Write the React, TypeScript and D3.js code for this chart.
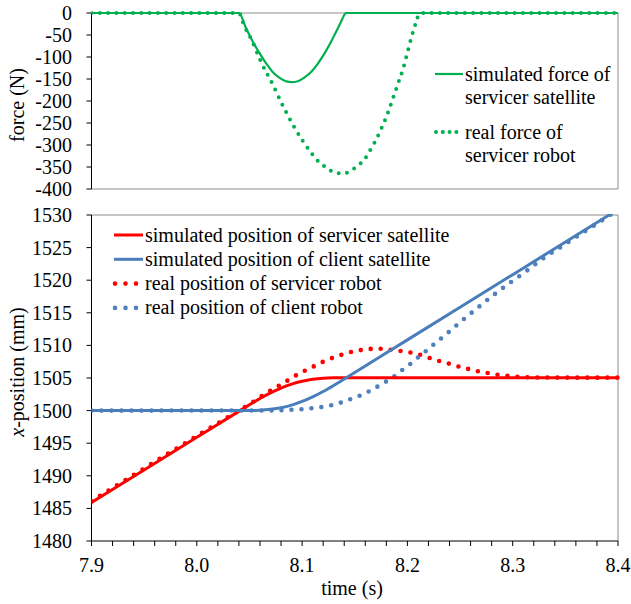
import React from "react";
import * as d3 from "d3";

// ---------- DATA ----------
// top panel: force (N)
const simForceTime = [7.9, 8.040, 8.047, 8.053, 8.060, 8.066, 8.072, 8.079, 8.085, 8.090, 8.096, 8.102, 8.109, 8.115, 8.121, 8.128, 8.133, 8.137, 8.1395, 8.1415, 8.4];
const simForceValue = [0, 0, -36, -64, -93, -115, -134, -148, -155.5, -157, -155, -147, -133, -115, -93, -63, -39, -20, -7, 0, 0];

const realForceTime = [7.9, 8.040, 8.045, 8.052, 8.061, 8.072, 8.082, 8.093, 8.101, 8.110, 8.115, 8.121, 8.127, 8.134, 8.142, 8.149, 8.155, 8.160, 8.164, 8.168, 8.175, 8.181, 8.186, 8.191, 8.196, 8.200, 8.204, 8.2085, 8.211, 8.213, 8.4];
const realForceValue = [0, 0, -29, -61, -111, -162, -212, -261, -292, -322, -336, -348, -358, -364, -363, -354, -343, -330, -314, -298, -264, -230, -196, -161, -126, -90, -54, -19, -2, 0, 0];

// bottom panel: x-position (mm)
const simServicerTime = [7.9, 8.0, 8.041, 8.05, 8.06, 8.07, 8.08, 8.09, 8.10, 8.11, 8.12, 8.13, 8.142, 8.4];
const simServicerValue = [1485.9, 1495.9, 1500.0, 1500.89, 1501.85, 1502.71, 1503.46, 1504.06, 1504.5, 1504.8, 1504.97, 1505.03, 1505.05, 1505.05];

const simClientTime = [7.9, 8.041, 8.05, 8.06, 8.07, 8.08, 8.09, 8.10, 8.11, 8.12, 8.13, 8.142, 8.2, 8.3, 8.4];
const simClientValue = [1500, 1500, 1500.01, 1500.05, 1500.19, 1500.44, 1500.84, 1501.4, 1502.1, 1502.93, 1503.86, 1505.05, 1510.85, 1520.85, 1530.85];

const realServicerTime = [7.9, 8.0, 8.041, 8.049, 8.065, 8.082, 8.098, 8.107, 8.115, 8.124, 8.133, 8.142, 8.152, 8.161, 8.171, 8.180, 8.190, 8.199, 8.209, 8.218, 8.227, 8.237, 8.245, 8.255, 8.264, 8.274, 8.282, 8.292, 8.301, 8.311, 8.33, 8.4];
const realServicerValue = [1486.1, 1496.1, 1500.1, 1500.88, 1502.57, 1504.2, 1505.74, 1506.45, 1507.1, 1507.8, 1508.3, 1508.8, 1509.17, 1509.4, 1509.5, 1509.4, 1509.22, 1509.01, 1508.71, 1508.25, 1507.74, 1507.33, 1506.91, 1506.51, 1506.14, 1505.84, 1505.59, 1505.38, 1505.22, 1505.13, 1505.07, 1505.05];

const realClientTime = [7.9, 8.070, 8.087, 8.096, 8.106, 8.115, 8.125, 8.134, 8.143, 8.152, 8.161, 8.169, 8.177, 8.186, 8.193, 8.201, 8.208, 8.216, 8.223, 8.238, 8.252, 8.267, 8.282, 8.297, 8.313, 8.328, 8.344, 8.360, 8.376, 8.392, 8.4];
const realClientValue = [1500, 1500.02, 1500.1, 1500.17, 1500.31, 1500.47, 1500.72, 1501.08, 1501.6, 1502.1, 1502.75, 1503.44, 1504.2, 1505.07, 1505.99, 1506.91, 1507.89, 1508.91, 1509.87, 1511.87, 1513.82, 1515.8, 1517.75, 1519.56, 1521.4, 1523.25, 1524.93, 1526.62, 1528.25, 1529.94, 1530.8];

const timeTicks = [7.9, 8.0, 8.1, 8.2, 8.3, 8.4];
const forceTicks = [0, -50, -100, -150, -200, -250, -300, -350, -400];
const positionTicks = [1480, 1485, 1490, 1495, 1500, 1505, 1510, 1515, 1520, 1525, 1530];

const forceLegend = [
  ["simulated force of", "servicer satellite"],
  ["real force of", "servicer robot"],
];
const positionLegend = [
  "simulated position of servicer satellite",
  "simulated position of client satellite",
  "real position of servicer robot",
  "real position of client robot",
];

// ---------- LAYOUT ----------
const W = 631;
const H = 604;
const FONT = "Liberation Serif";
const FS = 20;
const GREEN = "#00B050";
const RED = "#FF0000";
const BLUE_SOLID = "#4A7EBB";
const BLUE_DOT = "#4F81BD";
const AXIS = "#000000";
const BORDER = "#8C8C8C";

const L = 91.5;
const R = 618;
const TOP_T = 13;
const TOP_B = 189;
const BOT_T = 215;
const BOT_B = 541;

const TS: React.CSSProperties = { fontFamily: FONT, fontSize: FS };

export default function App() {
  const x = d3.scaleLinear().domain([7.9, 8.4]).range([L, R]);
  const yF = d3.scaleLinear().domain([-400, 0]).range([TOP_B, TOP_T]);
  const yP = d3.scaleLinear().domain([1480, 1530]).range([BOT_B, BOT_T]);

  const lineF = d3
    .line<[number, number]>()
    .x((d) => x(d[0]))
    .y((d) => yF(d[1]))
    .curve(d3.curveMonotoneX);
  const lineP = d3
    .line<[number, number]>()
    .x((d) => x(d[0]))
    .y((d) => yP(d[1]))
    .curve(d3.curveMonotoneX);

  const simF = d3.zip(simForceTime, simForceValue) as [number, number][];
  const realF = d3.zip(realForceTime, realForceValue) as [number, number][];
  const simS = d3.zip(simServicerTime, simServicerValue) as [number, number][];
  const simC = d3.zip(simClientTime, simClientValue) as [number, number][];
  const realS = d3.zip(realServicerTime, realServicerValue) as [number, number][];
  const realC = d3.zip(realClientTime, realClientValue) as [number, number][];

  const minorTicks = d3.range(0, 26).map((i) => 7.9 + i * 0.02);

  return (
    <svg
      width={W}
      height={H}
      style={{ position: "absolute", left: 0, top: 0, background: "#fff", fontFamily: FONT }}
    >
      <defs>
        <clipPath id="clipTop">
          <rect x={L} y={TOP_T - 6} width={R - L + 4} height={TOP_B - TOP_T + 8} />
        </clipPath>
        <clipPath id="clipBot">
          <rect x={L} y={BOT_T - 1} width={R - L + 4} height={BOT_B - BOT_T + 2} />
        </clipPath>
      </defs>
      <rect x={0} y={0} width={W} height={H} fill="#fff" />

      {/* ---------- TOP PANEL ---------- */}
      <line x1={L} x2={R} y1={TOP_T} y2={TOP_T} stroke={BORDER} strokeWidth={1} />
      <line x1={R} x2={R} y1={TOP_T} y2={TOP_B} stroke={BORDER} strokeWidth={1} />
      <line x1={L} x2={R} y1={TOP_B} y2={TOP_B} stroke={BORDER} strokeWidth={1} />
      <line x1={L} x2={L} y1={TOP_T} y2={TOP_B} stroke={AXIS} strokeWidth={1} />
      {forceTicks.map((t) => (
        <g key={"ft" + t}>
          <line x1={L - 5} x2={L} y1={yF(t)} y2={yF(t)} stroke={AXIS} strokeWidth={1} />
          <text x={72} y={yF(t)} dy="0.35em" textAnchor="end" style={TS} fill="#000">
            {String(t)}
          </text>
        </g>
      ))}
      <text
        transform={`translate(24, 105) rotate(-90)`}
        textAnchor="middle"
        style={TS}
        fill="#000"
      >
        force (N)
      </text>
      <g clipPath="url(#clipTop)">
        <path d={lineF(simF) || ""} fill="none" stroke={GREEN} strokeWidth={2.2} />
        <path
          d={lineF(realF) || ""}
          fill="none"
          stroke={GREEN}
          strokeWidth={4}
          strokeLinecap="round"
          strokeDasharray="0 8.3"
        />
      </g>
      {/* top legend */}
      <line x1={435} x2={463} y1={74} y2={74} stroke={GREEN} strokeWidth={2.2} />
      <text x={465} y={80.5} style={TS} fill="#000">{forceLegend[0][0]}</text>
      <text x={465} y={103.5} style={TS} fill="#000">{forceLegend[0][1]}</text>
      <line
        x1={436}
        x2={463}
        y1={132}
        y2={132}
        stroke={GREEN}
        strokeWidth={4}
        strokeLinecap="round"
        strokeDasharray="0 6.8"
      />
      <text x={465} y={138.5} style={TS} fill="#000">{forceLegend[1][0]}</text>
      <text x={465} y={161.5} style={TS} fill="#000">{forceLegend[1][1]}</text>

      {/* ---------- BOTTOM PANEL ---------- */}
      <line x1={L} x2={R} y1={BOT_T} y2={BOT_T} stroke={BORDER} strokeWidth={1} />
      <line x1={R} x2={R} y1={BOT_T} y2={BOT_B} stroke={BORDER} strokeWidth={1} />
      <line x1={L} x2={L} y1={BOT_T} y2={BOT_B} stroke={AXIS} strokeWidth={1} />
      <line x1={L} x2={R} y1={BOT_B} y2={BOT_B} stroke={AXIS} strokeWidth={1} />
      {positionTicks.map((t) => (
        <g key={"pt" + t}>
          <line x1={L - 5} x2={L} y1={yP(t)} y2={yP(t)} stroke={AXIS} strokeWidth={1} />
          <text x={72} y={yP(t)} dy="0.35em" textAnchor="end" style={TS} fill="#000">
            {String(t)}
          </text>
        </g>
      ))}
      {minorTicks.map((t, i) => (
        <line
          key={"mt" + i}
          x1={x(t)}
          x2={x(t)}
          y1={BOT_B}
          y2={BOT_B + 5}
          stroke={AXIS}
          strokeWidth={1}
        />
      ))}
      {timeTicks.map((t) => (
        <text key={"tt" + t} x={x(t)} y={572} textAnchor="middle" style={TS} fill="#000">
          {d3.format(".1f")(t)}
        </text>
      ))}
      <text x={352} y={595} textAnchor="middle" style={TS} fill="#000">
        time (s)
      </text>
      <text
        transform={`translate(24, 372) rotate(-90)`}
        textAnchor="middle"
        style={TS}
        fill="#000"
      >
        <tspan style={{ fontStyle: "italic" }}>x</tspan>-position (mm)
      </text>

      <g clipPath="url(#clipBot)">
        <path
          d={lineP(realS) || ""}
          fill="none"
          stroke={RED}
          strokeWidth={4.6}
          strokeLinecap="round"
          strokeDasharray="0 10"
        />
        <path
          d={lineP(realC) || ""}
          fill="none"
          stroke={BLUE_DOT}
          strokeWidth={4.6}
          strokeLinecap="round"
          strokeDasharray="0 10"
        />
        <path d={lineP(simS) || ""} fill="none" stroke={RED} strokeWidth={3} />
        <path d={lineP(simC) || ""} fill="none" stroke={BLUE_SOLID} strokeWidth={3} />
      </g>

      {/* bottom legend */}
      {positionLegend.map((label, i) => {
        const ly = 235 + i * 24.3;
        const dotted = i >= 2;
        const color = i % 2 === 0 ? RED : i === 1 ? BLUE_SOLID : BLUE_DOT;
        return (
          <g key={"pl" + i}>
            {dotted ? (
              <line
                x1={115}
                x2={137}
                y1={ly}
                y2={ly}
                stroke={color}
                strokeWidth={4.6}
                strokeLinecap="round"
                strokeDasharray="0 10.5"
              />
            ) : (
              <line x1={114} x2={143} y1={ly} y2={ly} stroke={color} strokeWidth={3} />
            )}
            <text x={145} y={ly + 6.5} style={TS} fill="#000">
              {label}
            </text>
          </g>
        );
      })}
    </svg>
  );
}
